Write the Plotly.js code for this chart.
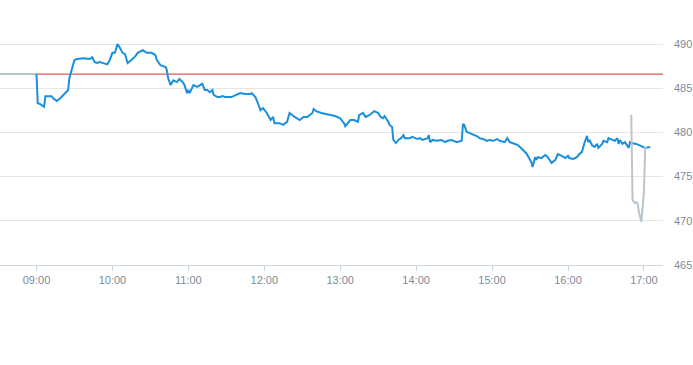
<!DOCTYPE html>
<html>
<head>
<meta charset="utf-8">
<script src="https://cdn.plot.ly/plotly-3.0.1.min.js"></script>
<style>html,body{margin:0;padding:0;background:#fff}#chart{width:693px;height:365px}</style>
</head>
<body>
<div id="chart"></div>
<script>
const day = '2024-03-15';
const prevClose = 486.6;

const blueTimes = ['09:00','09:01','09:03','09:04','09:06','09:07','09:09','09:12','09:13','09:16','09:19','09:21','09:24','09:25','09:26','09:28','09:30','09:32','09:37','09:42','09:44','09:46','09:48','09:50','09:56','09:58','10:00','10:02','10:04','10:06','10:08','10:10','10:12','10:15','10:18','10:20','10:22','10:24','10:27','10:31','10:34','10:35','10:38','10:42','10:43','10:44','10:46','10:48','10:51','10:53','10:56','10:57','10:59','11:00','11:01','11:04','11:07','11:09','11:11','11:13','11:15','11:17','11:19','11:20','11:23','11:25','11:27','11:29','11:31','11:34','11:37','11:41','11:45','11:49','11:50','11:53','11:55','11:57','11:59','12:02','12:05','12:07','12:08','12:12','12:15','12:18','12:20','12:22','12:24','12:28','12:31','12:34','12:38','12:39','12:41','12:45','12:48','12:52','12:56','13:00','13:03','13:04','13:07','13:08','13:11','13:14','13:15','13:18','13:20','13:23','13:26','13:27','13:30','13:32','13:34','13:35','13:38','13:39','13:41','13:42','13:44','13:46','13:48','13:50','13:51','13:53','13:55','13:57','14:01','14:03','14:05','14:09','14:10','14:11','14:13','14:16','14:20','14:23','14:25','14:28','14:31','14:32','14:36','14:37','14:38','14:40','14:42','14:46','14:49','14:50','14:53','14:56','14:58','15:01','15:04','15:06','15:10','15:12','15:14','15:16','15:20','15:22','15:24','15:27','15:30','15:31','15:32','15:34','15:35','15:36','15:39','15:42','15:44','15:47','15:50','15:52','15:55','15:58','16:00','16:01','16:04','16:07','16:09','16:11','16:13','16:15','16:16','16:17','16:19','16:21','16:23','16:24','16:27','16:28','16:31','16:32','16:35','16:37','16:39','16:40','16:41','16:43','16:45','16:47','16:48','16:49','16:50','16:54','16:58','17:01','17:05'];
const bluePrices = [486.6,483.3,483.2,483.1,482.9,484.1,484.1,484.1,483.9,483.55,483.9,484.2,484.7,484.8,486.15,487.05,488.2,488.3,488.4,488.3,488.5,487.95,487.85,487.95,487.7,488.2,489.0,489.0,490.0,489.55,489.0,488.85,487.85,488.2,488.6,489.0,489.2,489.3,489.0,489.0,488.75,488.2,487.6,487.4,487.05,486.15,485.35,485.9,485.7,486.05,485.6,485.35,484.45,484.8,484.45,485.35,485.15,485.35,485.5,484.8,484.8,484.55,484.8,484.25,484.0,484.0,484.1,484.0,484.0,484.0,484.2,484.45,484.35,484.35,484.45,484.0,483.3,482.5,482.75,482.2,481.4,481.75,481.05,481.05,480.85,481.2,482.2,481.95,481.75,481.4,481.75,481.75,482.2,482.65,482.4,482.2,482.1,481.95,481.85,481.6,481.05,480.7,481.3,481.4,481.4,481.2,481.95,482.2,481.75,481.95,482.3,482.4,482.2,481.75,481.6,481.85,481.2,480.85,480.6,479.15,478.8,479.15,479.35,479.7,479.35,479.35,479.35,479.5,479.25,479.35,479.15,479.35,479.7,478.9,479.15,479.05,479.15,478.9,479.05,479.15,478.9,478.9,479.05,480.95,480.85,480.05,479.95,479.7,479.5,479.35,479.25,479.05,479.15,479.05,479.25,479.05,478.9,479.35,478.9,478.8,478.6,478.35,478.1,477.65,476.9,476.65,476.1,477.2,476.9,477.2,477.1,477.45,477.2,476.55,476.9,477.55,477.35,477.1,477.35,477.1,477.0,477.2,477.55,477.8,478.8,479.6,478.9,479.15,478.55,478.35,478.7,478.25,478.7,479.05,478.9,479.35,479.15,479.05,479.35,478.7,479.15,478.7,478.9,478.55,478.25,478.9,478.8,478.7,478.45,478.25,478.35];

const preTimes = ['08:30','09:00'];
const prePrices = [486.6,486.6];

const postTimes = ['16:50','16:51','16:53','16:54','16:55','16:56','16:58','16:59','17:00','17:01','17:02'];
const postPrices = [482.0,472.35,472.0,472.1,472.0,471.0,469.9,471.8,473.25,478.25,478.25];

const tickVals = ['09:00','10:00','11:00','12:00','13:00','14:00','15:00','16:00','17:00'];
const yTicks = [465,470,475,480,485,490];

const ts = t => day + ' ' + t;

const grayColor = '#b9c5cd';
const traces = [
  {x: preTimes.map(ts), y: prePrices, mode:'lines', line:{color:grayColor, width:2}, hoverinfo:'skip'},
  {x: blueTimes.map(ts), y: bluePrices, mode:'lines', line:{color:'#1a8fdc', width:2}, hoverinfo:'skip'},
  {x: postTimes.map(ts), y: postPrices, mode:'lines', line:{color:grayColor, width:2}, hoverinfo:'skip'}
];

const layout = {
  width:693, height:365,
  margin:{l:0, r:30, t:10, b:100},
  paper_bgcolor:'#fff', plot_bgcolor:'#fff',
  showlegend:false,
  font:{family:'"Liberation Sans", Arial, sans-serif', size:11, color:'#7e8b97'},
  xaxis:{
    type:'date',
    range:[ts('08:31:10'), ts('17:15:04')],
    tickvals: tickVals.map(ts),
    ticktext: tickVals,
    showgrid:false, zeroline:false,
    showline:true, linecolor:'#ccd6dd', linewidth:1,
    ticks:'outside', ticklen:5, tickcolor:'#ccd6dd',
    tickfont:{size:11, color:'#7e8b97'}
  },
  yaxis:{
    side:'right',
    range:[465, 493.85],
    tickvals: yTicks,
    showgrid:true, gridcolor:'#e6e6e6', gridwidth:1,
    zeroline:false, showline:false, ticks:'',
    ticklabelstandoff: 10,
    tickfont:{size:11, color:'#7e8b97'}
  },
  shapes:[{type:'line', xref:'paper', x0:0, x1:1, yref:'y', y0:prevClose, y1:prevClose, line:{color:'#d0302c', width:1}, layer:'between'}]
};

Plotly.newPlot('chart', traces, layout, {displayModeBar:false, staticPlot:true});
</script>
</body>
</html>
